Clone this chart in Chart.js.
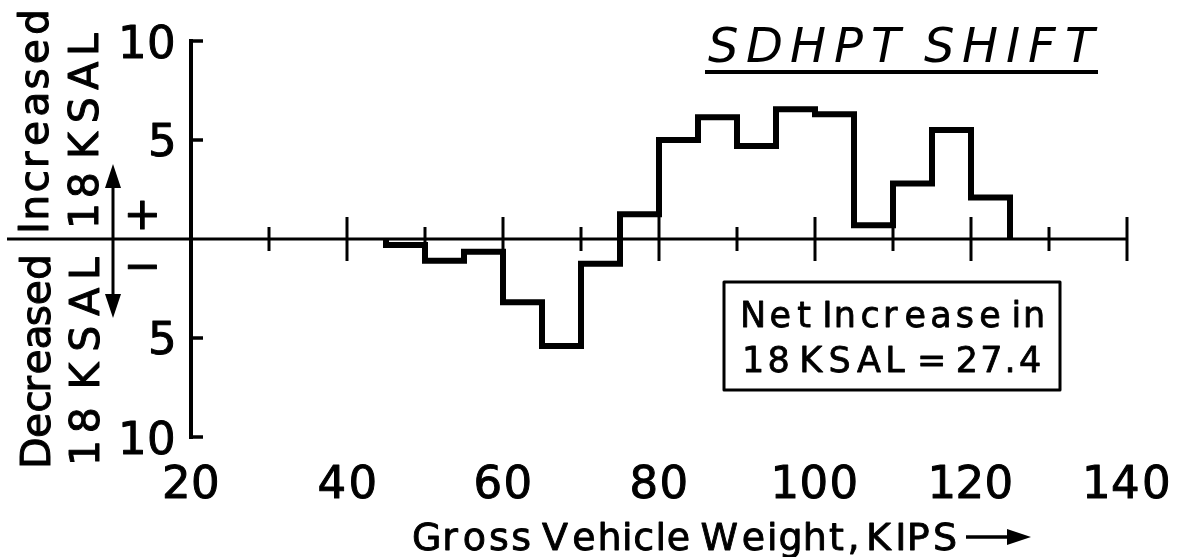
<!DOCTYPE html>
<html>
<head>
<meta charset="utf-8">
<script src="https://cdn.jsdelivr.net/npm/chart.js@4.4.1/dist/chart.umd.min.js"></script>
<style>
  html, body { margin: 0; padding: 0; background: #fff; }
  #grafico { display: block; }
</style>
</head>
<body>
<canvas id="grafico" width="1180" height="557"></canvas>
<script>
// datos (cambio de 18 KSAL por intervalo de peso)
const binStart = [45, 50, 55, 60, 65, 70, 75, 80, 85, 90, 95, 100, 105, 110, 115, 120];
const binWidth = 5;
const shiftKsal = [-0.3, -1.1, -0.65, -3.2, -5.4, -1.25, 1.25, 5.0, 6.15, 4.7, 6.55, 6.3, 0.7, 2.8, 5.5, 2.1];
const xTicks = [30, 40, 50, 60, 70, 80, 90, 100, 110, 120, 130, 140];
const xLabels = [20, 40, 60, 80, 100, 120, 140];
const yLabels = [10, 5, -5, -10];

const FUENTE = 'DejaVu Sans';

// escribe un texto letra por letra, con el espacio entre tintas fijo o ajustado a un ancho
function tinta(ctx, txt, x, y, opts) {
  const letras = [...txt].map(c => {
    if (c === ' ') return { c, l: 0, w: 0 };
    const m = ctx.measureText(c);
    return { c, l: m.actualBoundingBoxLeft, w: m.actualBoundingBoxLeft + m.actualBoundingBoxRight };
  });
  const suma = letras.reduce((a, b) => a + b.w, 0);
  const n = letras.length;
  let gap = opts.gap || 0;
  if (opts.width && n > 1) gap = (opts.width - suma) / (n - 1);
  const total = suma + gap * (n - 1);
  let cx = x;
  if (opts.align === 'center') cx = x - total / 2;
  else if (opts.align === 'right') cx = x - total;
  ctx.textAlign = 'left';
  ctx.lineJoin = 'round';
  letras.forEach(g => {
    if (g.c !== ' ') {
      ctx.fillText(g.c, cx + g.l, y);
      if (opts.grosor) {
        ctx.lineWidth = opts.grosor;
        ctx.strokeText(g.c, cx + g.l, y);
      }
    }
    cx += g.w + gap;
  });
}

// linea base para centrar la tinta en y
function baseCentro(ctx, txt, cy) {
  const m = ctx.measureText(txt);
  return cy + (m.actualBoundingBoxAscent - m.actualBoundingBoxDescent) / 2;
}

function flecha(ctx, x1, y1, x2, y2, largo, ancho) {
  const ang = Math.atan2(y2 - y1, x2 - x1);
  ctx.beginPath();
  ctx.moveTo(x2, y2);
  ctx.lineTo(x2 - largo * Math.cos(ang) + ancho * Math.sin(ang), y2 - largo * Math.sin(ang) - ancho * Math.cos(ang));
  ctx.lineTo(x2 - largo * Math.cos(ang) - ancho * Math.sin(ang), y2 - largo * Math.sin(ang) + ancho * Math.cos(ang));
  ctx.closePath();
  ctx.fill();
}

// puntos del contorno escalonado
const puntos = [{ x: binStart[0], y: 0 }];
binStart.forEach((x, i) => puntos.push({ x: x, y: shiftKsal[i] }));
puntos.push({ x: binStart[binStart.length - 1] + binWidth, y: shiftKsal[shiftKsal.length - 1] });
puntos.push({ x: binStart[binStart.length - 1] + binWidth, y: 0 });

const ejes = {
  id: 'ejes',
  beforeDatasetsDraw(chart) {
    const ctx = chart.ctx;
    const sx = chart.scales.x, sy = chart.scales.y;
    const y0 = sy.getPixelForValue(0);
    const xa = sx.getPixelForValue(20);
    ctx.save();
    ctx.strokeStyle = '#000';
    ctx.lineCap = 'butt';
    // linea del cero
    ctx.lineWidth = 3;
    ctx.beginPath();
    ctx.moveTo(7, y0);
    ctx.lineTo(sx.getPixelForValue(140), y0);
    ctx.stroke();
    // marcas en x
    xTicks.forEach(v => {
      const px = sx.getPixelForValue(v);
      const h = v % 20 === 0 ? 22 : 12;
      ctx.beginPath();
      ctx.moveTo(px, y0 - h);
      ctx.lineTo(px, y0 + h);
      ctx.stroke();
    });
    // eje y
    ctx.lineWidth = 4;
    ctx.beginPath();
    ctx.moveTo(xa, sy.getPixelForValue(10) - 2);
    ctx.lineTo(xa, sy.getPixelForValue(-10) + 2);
    ctx.stroke();
    ctx.lineWidth = 3.5;
    yLabels.forEach(v => {
      const py = sy.getPixelForValue(v);
      ctx.beginPath();
      ctx.moveTo(xa, py);
      ctx.lineTo(xa + 12, py);
      ctx.stroke();
    });
    ctx.restore();
  },
  afterDraw(chart) {
    const ctx = chart.ctx;
    const sx = chart.scales.x, sy = chart.scales.y;
    ctx.save();
    ctx.fillStyle = '#000';
    ctx.strokeStyle = '#000';

    // etiquetas de los ejes
    ctx.font = '45px "' + FUENTE + '"';
    yLabels.forEach(v => {
      const t = String(Math.abs(v));
      tinta(ctx, t, 173, baseCentro(ctx, t, sy.getPixelForValue(v)), { gap: 6, align: 'right', grosor: 1 });
    });
    xLabels.forEach(v => {
      tinta(ctx, String(v), sx.getPixelForValue(v), 498, { gap: 6, align: 'center', grosor: 1 });
    });

    // signos
    tinta(ctx, '+', 142, baseCentro(ctx, '+', 215), { align: 'center', grosor: 1 });
    tinta(ctx, '\u2212', 142, baseCentro(ctx, '\u2212', 267), { align: 'center', grosor: 1 });

    // rotulos girados a la izquierda
    ctx.font = '41px "' + FUENTE + '"';
    const girado = (txt, xb, yIni, largo) => {
      ctx.save();
      ctx.translate(xb, yIni);
      ctx.rotate(-Math.PI / 2);
      tinta(ctx, txt, 0, 0, { width: largo, grosor: 1 });
      ctx.restore();
    };
    girado('Increased', 48, 230, 218);
    girado('18 KSAL', 98, 225, 192);
    girado('Decreased', 50, 465, 208);
    girado('18 KSAL', 99, 462, 205);

    // flecha doble
    ctx.lineWidth = 3;
    ctx.beginPath();
    ctx.moveTo(113, 180);
    ctx.lineTo(113, 303);
    ctx.stroke();
    flecha(ctx, 113, 200, 113, 164, 24, 8);
    flecha(ctx, 113, 280, 113, 318, 24, 8);

    // titulo
    ctx.font = 'oblique 48px "' + FUENTE + '"';
    tinta(ctx, 'SDHPT SHIFT', 708, 62, { width: 390 });
    ctx.lineWidth = 4;
    ctx.beginPath();
    ctx.moveTo(705, 72);
    ctx.lineTo(1098, 72);
    ctx.stroke();

    // recuadro
    ctx.lineWidth = 3;
    ctx.strokeRect(724, 282, 336, 108);
    ctx.font = '35px "' + FUENTE + '"';
    tinta(ctx, 'Net Increase in', 743, 327, { width: 300, grosor: 0.8 });
    tinta(ctx, '18 KSAL = 27.4', 745, 372, { width: 295, grosor: 0.8 });

    // titulo del eje x
    ctx.font = '38px "' + FUENTE + '"';
    tinta(ctx, 'Gross Vehicle Weight, KIPS', 414, 550, { width: 541, grosor: 0.9 });
    ctx.lineWidth = 3.5;
    ctx.beginPath();
    ctx.moveTo(966, 537);
    ctx.lineTo(1012, 537);
    ctx.stroke();
    flecha(ctx, 990, 537, 1031, 537, 24, 8);

    ctx.restore();
  }
};

const ctx = document.getElementById('grafico').getContext('2d');
const grafico = new Chart(ctx, {
  type: 'line',
  data: {
    datasets: [{
      data: puntos,
      stepped: 'before',
      borderColor: '#000',
      borderWidth: 6,
      borderJoinStyle: 'miter',
      borderCapStyle: 'butt',
      pointRadius: 0,
      fill: false,
      clip: false
    }]
  },
  options: {
    responsive: false,
    animation: false,
    layout: { padding: { left: 191, right: 53, top: 41, bottom: 120 } },
    plugins: { legend: { display: false }, tooltip: { enabled: false } },
    scales: {
      x: { type: 'linear', min: 20, max: 140, display: false },
      y: { min: -10, max: 10, display: false }
    }
  },
  plugins: [ejes]
});
</script>
</body>
</html>
